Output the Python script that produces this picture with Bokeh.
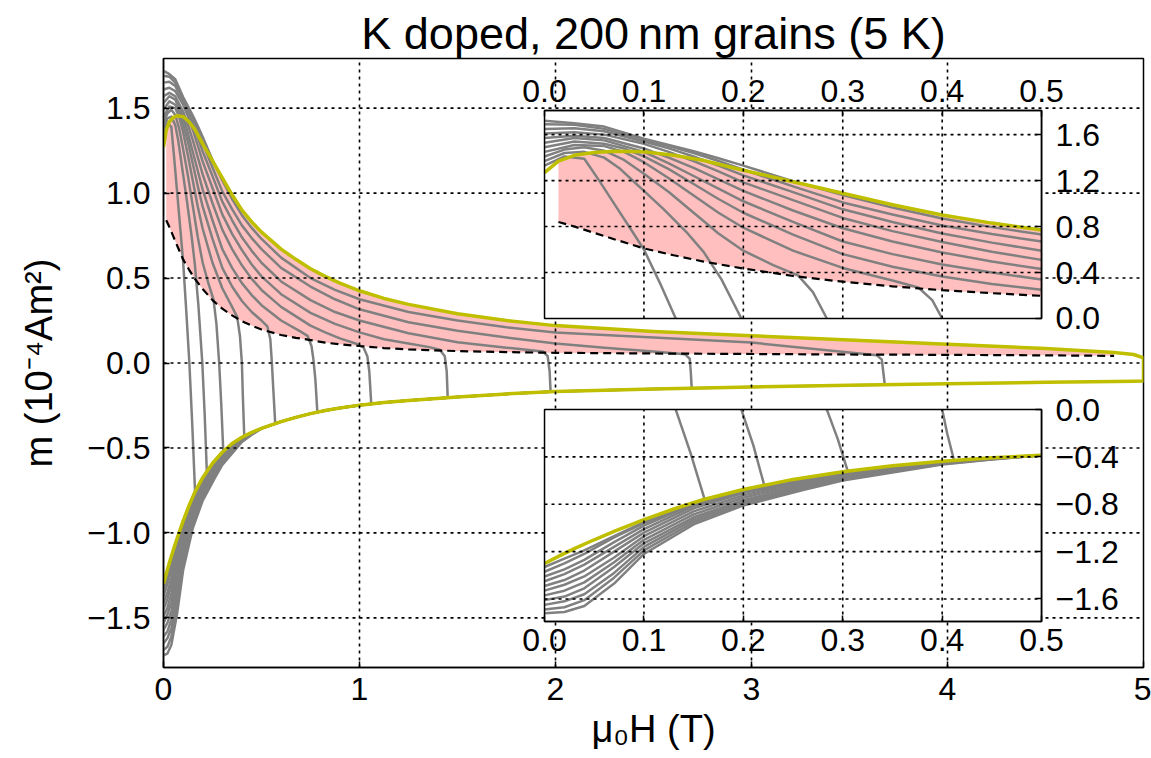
from bokeh.plotting import figure
from bokeh.models import Range1d, LinearAxis, FixedTicker, CustomJSTickFormatter
from bokeh.embed import file_html
from bokeh.resources import INLINE

NAN = float("nan")
FONT = "Liberation Sans"

# ---------------------------------------------------------------------------
# Major loop, sampled on one field grid (T); moment m in 1e-4 A m^2
# ---------------------------------------------------------------------------
field = [0.0, 0.014, 0.03, 0.05, 0.07, 0.1, 0.13, 0.16, 0.2, 0.25, 0.3, 0.35, 0.4, 0.45,
         0.5, 0.6, 0.675, 0.75, 0.825, 0.9, 1.0, 1.125, 1.25, 1.5, 1.75, 2.0, 2.5, 3.0, 3.5,
         4.0, 4.5, 4.85, 4.95, 5.0]
# decreasing-field branch (upper)
m_down = [1.27, 1.37, 1.42, 1.445, 1.455, 1.45, 1.42, 1.375, 1.29, 1.19, 1.09, 0.99, 0.90,
          0.83, 0.77, 0.67, 0.61, 0.555, 0.51, 0.47, 0.425, 0.38, 0.345, 0.29, 0.25, 0.22,
          0.185, 0.16, 0.135, 0.11, 0.085, 0.062, 0.05, 0.03]
# increasing-field branch (lower)
m_up = [-1.30, -1.24, -1.175, -1.10, -1.03, -0.93, -0.84, -0.76, -0.675, -0.59, -0.525,
        -0.474, -0.437, -0.408, -0.385, -0.345, -0.32, -0.298, -0.28, -0.265, -0.248, -0.232,
        -0.22, -0.20, -0.182, -0.168, -0.153, -0.141, -0.131, -0.122, -0.114, -0.109, -0.107,
        -0.106]
# lower edge of the shaded band (dashed)
m_edge = [NAN, 0.84, 0.80, 0.745, 0.69, 0.61, 0.55, 0.495, 0.435, 0.37, 0.32, 0.28, 0.246,
          0.22, 0.197, 0.165, 0.148, 0.135, 0.12, 0.11, 0.10, 0.088, 0.08, 0.07, 0.064, 0.06,
          0.056, 0.053, 0.05, 0.048, 0.045, 0.042, NAN, NAN]

# ---------------------------------------------------------------------------
# Minor loops, one per reversal field
# ---------------------------------------------------------------------------
reversal_field = [0.16, 0.22, 0.30, 0.41, 0.57, 0.78, 1.06, 1.45, 1.97, 2.69, 3.66]

# return branches, listed from H = 0 out to the reversal point on the lower branch
return_h = [
    [0.0, 0.02, 0.04, 0.055, 0.07, 0.085, 0.1, 0.116, 0.132, 0.147, 0.161],
    [0.0, 0.02, 0.04, 0.06, 0.075, 0.09, 0.1, 0.12, 0.144, 0.16, 0.178, 0.198, 0.21, 0.221],
    [0.0, 0.02, 0.04, 0.06, 0.08, 0.1, 0.125, 0.15, 0.175, 0.2, 0.23, 0.255, 0.27, 0.284,
     0.295, 0.305],
    [0.0, 0.03, 0.06, 0.08, 0.1, 0.125, 0.15, 0.175, 0.2, 0.25, 0.3, 0.35, 0.376, 0.39, 0.40,
     0.405, 0.412],
    [0.0, 0.03, 0.06, 0.08, 0.1, 0.125, 0.15, 0.175, 0.2, 0.25, 0.3, 0.35, 0.4, 0.45, 0.5,
     0.53, 0.545, 0.553, 0.56, 0.57],
    [0.0, 0.03, 0.06, 0.1, 0.125, 0.15, 0.175, 0.2, 0.25, 0.3, 0.35, 0.4, 0.45, 0.5, 0.6, 0.7,
     0.735, 0.755, 0.765, 0.775, 0.785],
    [0.0, 0.03, 0.06, 0.1, 0.125, 0.15, 0.175, 0.2, 0.25, 0.3, 0.35, 0.4, 0.45, 0.5, 0.6, 0.75,
     0.825, 0.9, 0.98, 1.02, 1.04, 1.05, 1.06],
    [0.0, 0.03, 0.06, 0.1, 0.125, 0.15, 0.175, 0.2, 0.25, 0.3, 0.35, 0.4, 0.45, 0.5, 0.6, 0.75,
     0.875, 1.0, 1.125, 1.25, 1.35, 1.41, 1.435, 1.445, 1.45],
    [0.0, 0.03, 0.06, 0.1, 0.125, 0.15, 0.175, 0.2, 0.25, 0.3, 0.35, 0.4, 0.45, 0.5, 0.6, 0.75,
     0.875, 1.0, 1.25, 1.5, 1.75, 1.935, 1.96, 1.97, 1.975],
    [0.0, 0.03, 0.06, 0.1, 0.125, 0.15, 0.175, 0.2, 0.25, 0.3, 0.35, 0.4, 0.45, 0.5, 0.6, 0.75,
     0.875, 1.0, 1.25, 1.5, 1.75, 2.0, 2.25, 2.5, 2.66, 2.685, 2.69, 2.695],
    [0.0, 0.03, 0.06, 0.1, 0.125, 0.15, 0.175, 0.2, 0.25, 0.3, 0.35, 0.4, 0.45, 0.5, 0.6, 0.75,
     0.875, 1.0, 1.25, 1.5, 1.75, 2.0, 2.5, 3.0, 3.5, 3.64, 3.665, 3.672, 3.68],
]
return_m = [
    [1.33, 1.41, 1.39, 1.20, 1.0, 0.80, 0.60, 0.31, 0.0, -0.37, -0.757],
    [1.37, 1.44, 1.45, 1.40, 1.31, 1.19, 1.11, 0.95, 0.74, 0.58, 0.34, 0.0, -0.30, -0.639],
    [1.41, 1.47, 1.49, 1.46, 1.38, 1.26, 1.10, 0.92, 0.74, 0.59, 0.465, 0.375, 0.23, 0.0,
     -0.25, -0.52],
    [1.45, 1.51, 1.50, 1.45, 1.36, 1.22, 1.07, 0.92, 0.79, 0.59, 0.44, 0.33, 0.27, 0.16, 0.0,
     -0.2, -0.43],
    [1.49, 1.54, 1.52, 1.48, 1.41, 1.30, 1.17, 1.04, 0.92, 0.73, 0.56, 0.45, 0.365, 0.30, 0.25,
     0.215, 0.14, 0.0, -0.15, -0.357],
    [1.53, 1.57, 1.55, 1.45, 1.35, 1.24, 1.13, 1.02, 0.84, 0.67, 0.56, 0.47, 0.40, 0.34, 0.25,
     0.185, 0.16, 0.10, 0.02, -0.1, -0.29],
    [1.57, 1.59, 1.57, 1.48, 1.40, 1.31, 1.21, 1.11, 0.94, 0.785, 0.67, 0.575, 0.495, 0.43,
     0.33, 0.22, 0.18, 0.145, 0.115, 0.092, 0.04, -0.05, -0.24],
    [1.61, 1.62, 1.60, 1.52, 1.45, 1.37, 1.28, 1.185, 1.03, 0.875, 0.76, 0.665, 0.58, 0.51,
     0.405, 0.295, 0.23, 0.18, 0.14, 0.115, 0.095, 0.078, 0.04, -0.05, -0.204],
    [1.65, 1.655, 1.63, 1.54, 1.48, 1.41, 1.33, 1.245, 1.10, 0.95, 0.84, 0.74, 0.66, 0.59,
     0.48, 0.37, 0.30, 0.25, 0.175, 0.122, 0.09, 0.068, 0.04, -0.05, -0.169],
    [1.69, 1.685, 1.65, 1.555, 1.50, 1.44, 1.37, 1.295, 1.15, 1.01, 0.905, 0.81, 0.735, 0.67,
     0.56, 0.45, 0.375, 0.316, 0.24, 0.19, 0.15, 0.115, 0.09, 0.068, 0.052, 0.025, -0.05,
     -0.148],
    [1.72, 1.70, 1.67, 1.565, 1.51, 1.455, 1.395, 1.33, 1.195, 1.075, 0.965, 0.87, 0.795, 0.73,
     0.62, 0.50, 0.43, 0.375, 0.30, 0.25, 0.21, 0.18, 0.15, 0.12, 0.062, 0.045, 0.02, -0.05,
     -0.128],
]

# re-magnetising branches leaving H = 0 before they join the lower branch
rise_h = [0.0, 0.02, 0.04, 0.07, 0.1, 0.15, 0.2, 0.26, 0.3, 0.4, 0.45]
rise_m = [
    [-1.33, -1.26, -1.19, -1.07, -0.95, -0.80],
    [-1.37, -1.30, -1.22, -1.08, -0.96, -0.80, -0.69],
    [-1.41, -1.35, -1.27, -1.12, -0.98, -0.80, -0.69, -0.59],
    [-1.45, -1.39, -1.31, -1.16, -1.01, -0.815, -0.695, -0.595, -0.535, -0.44],
    [-1.49, -1.44, -1.36, -1.20, -1.04, -0.835, -0.705, -0.60, -0.54, -0.442, -0.41],
    [-1.53, -1.48, -1.41, -1.25, -1.07, -0.86, -0.725, -0.61, -0.55, -0.445, -0.412],
    [-1.57, -1.53, -1.46, -1.29, -1.10, -0.885, -0.745, -0.625, -0.56, -0.448, -0.414],
    [-1.61, -1.58, -1.51, -1.33, -1.13, -0.91, -0.765, -0.64, -0.57, -0.452, -0.416],
    [-1.65, -1.62, -1.56, -1.38, -1.16, -0.93, -0.78, -0.655, -0.58, -0.456, -0.418],
    [-1.69, -1.67, -1.61, -1.42, -1.19, -0.95, -0.795, -0.665, -0.59, -0.46, -0.42],
    [-1.72, -1.71, -1.66, -1.47, -1.22, -0.97, -0.81, -0.68, -0.60, -0.465, -0.422],
]

# ticks
main_xticks = [0, 1, 2, 3, 4, 5]
main_yticks = [-1.5, -1.0, -0.5, 0.0, 0.5, 1.0, 1.5]
inset_xticks = [0.0, 0.1, 0.2, 0.3, 0.4, 0.5]
top_yticks = [0.0, 0.4, 0.8, 1.2, 1.6]
bottom_yticks = [-1.6, -1.2, -0.8, -0.4, 0.0]

# axis limits
MAIN_X = (0.0, 5.0)
MAIN_Y = (-1.792, 1.792)
INSET_X = (0.0, 0.5)
TOP_Y = (0.0, 1.81)
BOTTOM_Y = (-1.79, 0.0)
# inset boxes, given in main-axis units (x0, x1, y0, y1)
TOP_BOX = (1.944, 4.480, 0.262, 1.486)
BOTTOM_BOX = (1.944, 4.480, -1.521, -0.274)

GRAY = "#808080"
OLIVE = "#bfbf00"
PINK = "#ffbfbf"


# ---------------------------------------------------------------------------
# assemble paths
# ---------------------------------------------------------------------------
def loop_path(i):
    """rise from H = 0, along the lower branch, up the return branch back to 0"""
    n = len(rise_m[i])
    hs = list(rise_h[:n])
    ms = list(rise_m[i])
    h_end = return_h[i][-1]
    for h, m in zip(field, m_up):
        if hs[-1] < h < h_end:
            hs.append(h)
            ms.append(m)
    hs += return_h[i][::-1]
    ms += return_m[i][::-1]
    return hs, ms


loops = [loop_path(i) for i in range(len(reversal_field))]
major_h = field + field[::-1]
major_m = m_up + m_down[::-1]
band_idx = [k for k, v in enumerate(m_edge) if v == v]


def keep_inside(hs, ms, xlim, ylim):
    eps = 1e-9
    xs, ys = [], []
    for h, m in zip(hs, ms):
        if xlim[0] - eps <= h <= xlim[1] + eps and ylim[0] - eps <= m <= ylim[1] + eps:
            xs.append(h)
            ys.append(m)
        else:
            xs.append(NAN)
            ys.append(NAN)
    return xs, ys


def mapped_range(lim, box, main):
    scale = (lim[1] - lim[0]) / (box[1] - box[0])
    return Range1d(lim[0] - (box[0] - main[0]) * scale, lim[1] + (main[1] - box[1]) * scale)


# ---------------------------------------------------------------------------
# figure
# ---------------------------------------------------------------------------
p = figure(frame_width=980, frame_height=609, x_range=Range1d(*MAIN_X),
           y_range=Range1d(*MAIN_Y), output_backend="svg", toolbar_location=None,
           min_border_left=163, min_border_right=8, min_border_top=58, min_border_bottom=91)
p.extra_x_ranges = {"ix": mapped_range(INSET_X, TOP_BOX[:2], MAIN_X)}
p.extra_y_ranges = {"ty": mapped_range(TOP_Y, TOP_BOX[2:], MAIN_Y),
                    "by": mapped_range(BOTTOM_Y, BOTTOM_BOX[2:], MAIN_Y)}
p.xgrid.visible = False
p.ygrid.visible = False
p.outline_line_color = "black"
p.outline_line_width = 1.5
p.background_fill_color = "white"
p.border_fill_color = "white"

p.title.text = "K doped, 200\u2009nm grains (5 K)"
p.title.align = "center"
p.title.text_font = FONT
p.title.text_font_size = "45px"
p.title.text_font_style = "normal"
p.title.text_color = "black"
p.title.standoff = 0

fmt0 = CustomJSTickFormatter(code="return tick.toFixed(0).replace('-', '\u2212')")
fmt1 = CustomJSTickFormatter(code="return tick.toFixed(1).replace('-', '\u2212')")


def style_axis(ax, ticks, fmt, standoff):
    ax.ticker = FixedTicker(ticks=ticks)
    ax.formatter = fmt
    ax.major_label_text_font = FONT
    ax.major_label_text_font_size = "32px"
    ax.major_label_text_color = "black"
    ax.major_label_standoff = standoff
    ax.major_tick_in = 6
    ax.major_tick_out = 0
    ax.minor_tick_in = 0
    ax.minor_tick_out = 0
    ax.axis_line_color = "black"
    ax.axis_line_width = 1.5
    ax.major_tick_line_color = "black"
    ax.major_tick_line_width = 1.5


xax = p.below[0]
yax = p.left[0]
style_axis(xax, main_xticks, fmt0, 10)
style_axis(yax, main_yticks, fmt1, 13)
xax.axis_label = "\u03bc\u2080H (T)"
yax.axis_label = "m (10\u207b\u2074Am\u00b2)"
for ax in (xax, yax):
    ax.axis_label_text_font = FONT
    ax.axis_label_text_font_size = "38px"
    ax.axis_label_text_font_style = "normal"
    ax.axis_label_text_color = "black"
xax.axis_label_standoff = 5
yax.axis_label_standoff = 24


def draw_curves(xlim, ylim, xr="default", yr="default"):
    kw = dict(x_range_name=xr, y_range_name=yr)
    # shaded band between the dashed edge and the upper branch
    sel = [k for k in band_idx if xlim[0] <= field[k] <= xlim[1]]
    if ylim[1] > 0:
        p.varea(x=[field[k] for k in sel], y1=[m_edge[k] for k in sel],
                y2=[m_down[k] for k in sel], fill_color=PINK, **kw)
    for hs, ms in loops:
        xs, ys = keep_inside(hs, ms, xlim, ylim)
        p.line(xs, ys, line_color=GRAY, line_width=2.5, line_join="round", **kw)
    xs, ys = keep_inside(field, m_edge, xlim, ylim)
    p.line(xs, ys, line_color="black", line_width=2.2, line_dash="8 5", **kw)
    xs, ys = keep_inside(major_h, major_m, xlim, ylim)
    p.line(xs, ys, line_color=OLIVE, line_width=3.5, line_join="round", **kw)


def draw_grid(xticks, yticks, xlim, ylim, xr="default", yr="default"):
    kw = dict(x_range_name=xr, y_range_name=yr, line_color="black", line_width=1.6,
              line_dash="3 4")
    gx = [t for t in xticks if xlim[0] < t < xlim[1]]
    gy = [t for t in yticks if ylim[0] < t < ylim[1]]
    p.segment(x0=gx, y0=[ylim[0]] * len(gx), x1=gx, y1=[ylim[1]] * len(gx), **kw)
    p.segment(x0=[xlim[0]] * len(gy), y0=gy, x1=[xlim[1]] * len(gy), y1=gy, **kw)


# main panel
draw_curves(MAIN_X, (-10, 10))
draw_grid(main_xticks, main_yticks, MAIN_X, MAIN_Y)

# insets
for yr, ylim, yticks, x_side in (("ty", TOP_Y, top_yticks, "above"),
                                  ("by", BOTTOM_Y, bottom_yticks, "below")):
    p.quad(left=[INSET_X[0]], right=[INSET_X[1]], bottom=[ylim[0]], top=[ylim[1]],
           fill_color="white", line_color=None, x_range_name="ix", y_range_name=yr)
    draw_curves(INSET_X, ylim, "ix", yr)
    draw_grid(inset_xticks, yticks, INSET_X, ylim, "ix", yr)
    p.quad(left=[INSET_X[0]], right=[INSET_X[1]], bottom=[ylim[0]], top=[ylim[1]],
           fill_color=None, line_color="black", line_width=1.5,
           x_range_name="ix", y_range_name=yr)

    ax_x = LinearAxis(x_range_name="ix", y_range_name=yr, bounds=INSET_X,
                      fixed_location=ylim[1] if x_side == "above" else ylim[0])
    style_axis(ax_x, inset_xticks, fmt1, 8)
    p.add_layout(ax_x, x_side)
    ax_y = LinearAxis(x_range_name="ix", y_range_name=yr, bounds=ylim,
                      fixed_location=INSET_X[1])
    style_axis(ax_y, yticks, fmt1, 14)
    p.add_layout(ax_y, "right")

open("out.html", "w").write(file_html(p, INLINE))
